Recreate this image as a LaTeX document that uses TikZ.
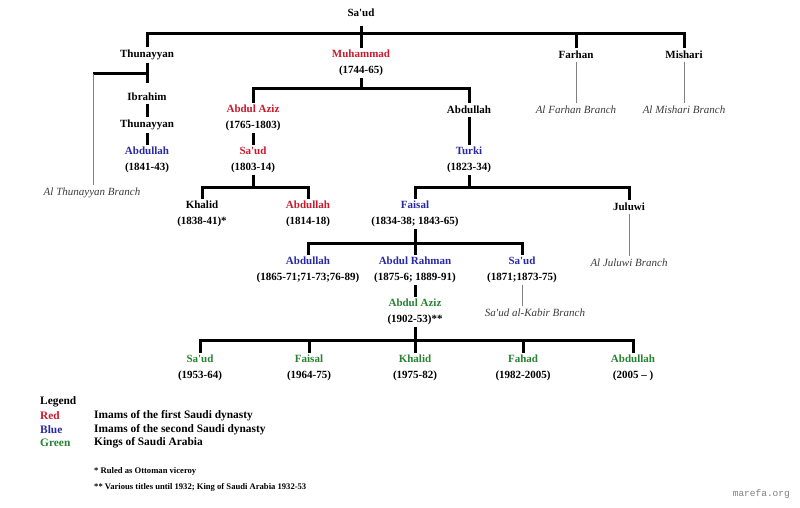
\documentclass[tikz,border=0pt]{standalone}
\usepackage{fontspec}
\setmainfont{Liberation Serif}[Ligatures=TeXOff]
\newfontfamily\monofam{Liberation Mono}
\definecolor{imred}{RGB}{200,25,45}
\definecolor{imblue}{RGB}{40,40,165}
\definecolor{kggreen}{RGB}{40,130,50}
\definecolor{brgray}{RGB}{60,60,60}
\begin{document}
\begin{tikzpicture}[x=1pt,y=-1pt,
  person/.style={font=\fontsize{11}{15.5}\selectfont\bfseries, align=center, inner sep=2.5pt},
  branch/.style={font=\fontsize{11}{13}\selectfont\itshape, text=brgray, inner sep=2.5pt},
  fam/.style={line width=3pt, black},
  thinline/.style={line width=0.8pt, gray},
  legtext/.style={font=\fontsize{11.4}{13}\selectfont\bfseries, anchor=west, inner sep=0pt},
  foot/.style={font=\fontsize{8.6}{10}\selectfont\bfseries, anchor=west, inner sep=0pt}]
\useasboundingbox (0,0) rectangle (800,508);
\fill[white] (0,0) rectangle (800,508);
% people
\node[person] (saud0) at (361,13) {Sa'ud};
\node[person] (thun1) at (147,55) {Thunayyan};
\node[person] (muh) at (361,63) {\textcolor{imred}{Muhammad}\\(1744-65)};
\node[person] (farhan) at (576,55) {Farhan};
\node[person] (mishari) at (684,55) {Mishari};
\node[person] (ibrahim) at (147,97) {Ibrahim};
\node[person] (aziz1) at (253,118) {\textcolor{imred}{Abdul Aziz}\\(1765-1803)};
\node[person] (abd1) at (469,110) {Abdullah};
\node[branch] (farhanbr) at (576,110) {Al Farhan Branch};
\node[branch] (mishbr) at (684,110) {Al Mishari Branch};
\node[person] (thun2) at (147,125) {Thunayyan};
\node[person] (abdt) at (147,160) {\textcolor{imblue}{Abdullah}\\(1841-43)};
\node[person] (saud1) at (253,160) {\textcolor{imred}{Sa'ud}\\(1803-14)};
\node[person] (turki) at (469,160) {\textcolor{imblue}{Turki}\\(1823-34)};
\node[branch] (thunbr) at (92,193) {Al Thunayyan Branch};
\node[person] (khalid1) at (202,214) {Khalid\\(1838-41)*};
\node[person] (abd2) at (308,214) {\textcolor{imred}{Abdullah}\\(1814-18)};
\node[person] (faisal) at (415,214) {\textcolor{imblue}{Faisal}\\(1834-38; 1843-65)};
\node[person] (juluwi) at (629,207) {Juluwi};
\node[person] (abd3) at (308,270) {\textcolor{imblue}{Abdullah}\\(1865-71;71-73;76-89)};
\node[person] (rahman) at (415,270) {\textcolor{imblue}{Abdul Rahman}\\(1875-6; 1889-91)};
\node[person] (saud2) at (522,270) {\textcolor{imblue}{Sa'ud}\\(1871;1873-75)};
\node[branch] (julbr) at (629,263) {Al Juluwi Branch};
\node[person] (aziz2) at (415,312) {\textcolor{kggreen}{Abdul Aziz}\\(1902-53)**};
\node[branch] (kabir) at (535,313) {Sa'ud al-Kabir Branch};
\node[person] (k1) at (200,368) {\textcolor{kggreen}{Sa'ud}\\(1953-64)};
\node[person] (k2) at (309,368) {\textcolor{kggreen}{Faisal}\\(1964-75)};
\node[person] (k3) at (415,368) {\textcolor{kggreen}{Khalid}\\(1975-82)};
\node[person] (k4) at (523,368) {\textcolor{kggreen}{Fahad}\\(1982-2005)};
\node[person] (k5) at (633,368) {\textcolor{kggreen}{Abdullah}\\(2005 – )};
% junction coordinates
\coordinate (b0) at (361,34);
\coordinate (b0top) at (361,26);
\coordinate (b1) at (361,89);
\coordinate (b2) at (253,187);
\coordinate (b3) at (469,187);
\coordinate (b4) at (415,243);
\coordinate (b5) at (415,340);
\coordinate (tj) at (147,74);
\coordinate (tl) at (93,74);
\coordinate (tend) at (147,83);
% thick connectors
\draw[fam] (b0top) -- (muh.north);
\draw[fam] (thun1.north) |- (b0) -| (mishari.north);
\draw[fam] (farhan.north) -- (farhan.north |- b0);
\draw[fam] (thun1.south) -- (tend);
\draw[fam] (tj) -- (tl);
\draw[fam] (ibrahim.south) -- (thun2.north);
\draw[fam] (thun2.south) -- (abdt.north);
\draw[fam] (muh.south) -- (b1);
\draw[fam] (aziz1.north) |- (b1) -| (abd1.north);
\draw[fam] (aziz1.south) -- (saud1.north);
\draw[fam] (abd1.south) -- (turki.north);
\draw[fam] (saud1.south) -- (b2);
\draw[fam] (khalid1.north) |- (b2) -| (abd2.north);
\draw[fam] (turki.south) -- (b3);
\draw[fam] (faisal.north) |- (b3) -| (juluwi.north);
\draw[fam] (faisal.south) -- (rahman.north);
\draw[fam] (abd3.north) |- (b4) -| (saud2.north);
\draw[fam] (rahman.south) -- (aziz2.north);
\draw[fam] (aziz2.south) -- (k3.north);
\draw[fam] (k1.north) |- (b5) -| (k5.north);
\draw[fam] (k2.north) -- (k2.north |- b5);
\draw[fam] (k4.north) -- (k4.north |- b5);
% thin connectors
\draw[thinline] (tl) -- (tl |- thunbr.north);
\draw[thinline] (farhan.south) -- (farhanbr.north);
\draw[thinline] (mishari.south) -- (mishbr.north);
\draw[thinline] (juluwi.south) -- (julbr.north);
\draw[thinline] (saud2.south) -- (saud2.south |- kabir.north);
% legend
\node[legtext] (leg) at (40,402) {Legend};
\node[legtext, text=imred] (lred) at (40,416) {Red};
\node[legtext, text=imblue] (lblue) at (40,430) {Blue};
\node[legtext, text=kggreen] (lgreen) at (40,443) {Green};
\node[legtext] (dred) at (94,416) {Imams of the first Saudi dynasty};
\node[legtext] (dblue) at (94,430) {Imams of the second Saudi dynasty};
\node[legtext] (dgreen) at (94,443) {Kings of Saudi Arabia};
\node[foot] (f1) at (94,471) {* Ruled as Ottoman viceroy};
\node[foot] (f2) at (94,487) {** Various titles until 1932; King of Saudi Arabia 1932-53};
\node[anchor=east, inner sep=0pt, font=\monofam\fontsize{9.5}{11}\selectfont, text=gray] (mark) at (790,494) {marefa.org};
\end{tikzpicture}
\end{document}
